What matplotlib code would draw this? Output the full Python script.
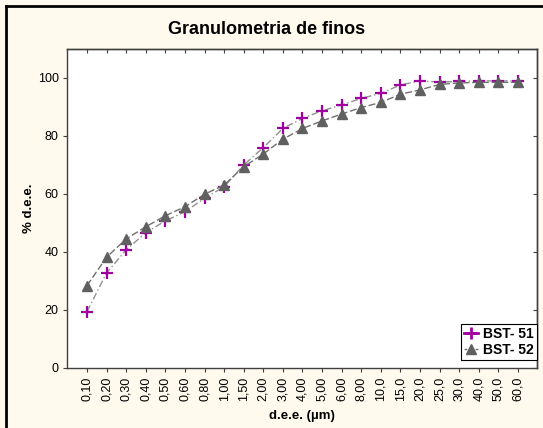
import matplotlib
matplotlib.use("Agg")
import matplotlib.pyplot as plt
from matplotlib.lines import Line2D

plt.rcParams['font.family'] = ['Liberation Sans', 'DejaVu Sans']

# Particle size classes (µm) and cumulative passing (%)
sizes = ["0,10", "0,20", "0,30", "0,40", "0,50", "0,60", "0,80", "1,00", "1,50",
         "2,00", "3,00", "4,00", "5,00", "6,00", "8,00", "10,0", "15,0", "20,0",
         "25,0", "30,0", "40,0", "50,0", "60,0"]
bst51 = [19.4, 32.8, 40.7, 46.7, 50.7, 53.9, 58.5, 62.5, 70.0, 76.0, 82.6, 86.1,
         88.7, 90.7, 93.0, 94.7, 97.6, 99.0, 98.6, 98.8, 99.0, 99.0, 99.0]
bst52 = [28.4, 38.2, 44.5, 48.7, 52.5, 55.6, 59.9, 63.1, 69.4, 73.8, 78.9, 82.6,
         85.2, 87.6, 89.8, 91.6, 94.4, 95.9, 97.8, 98.3, 98.5, 98.5, 98.5]
y_ticks = [0, 20, 40, 60, 80, 100]

bg = '#FFF9EE'
fig = plt.figure(figsize=(5.43, 4.28), dpi=100, facecolor=bg)
ax = fig.add_axes([67/543, 60/428, 470/543, 319/428])
ax.set_facecolor('white')

x = list(range(len(sizes)))
ax.plot(x, bst51, color='#909090', lw=1.0, ls=(0, (5, 2, 1, 2)),
        marker='+', ms=8, mew=1.6, mec='#A000A0', zorder=2)
ax.plot(x, bst52, color='#707070', lw=1.0, ls=(0, (5, 2)),
        marker='^', ms=7, mfc='#606060', mec='#606060', zorder=3)

ax.set_xlim(-1.02, len(sizes) - 1 + 0.97)
ax.set_ylim(0, 110)
ax.set_xticks(x)
ax.set_xticklabels(sizes, rotation=90, fontsize=9)
ax.set_yticks(y_ticks)
ax.set_yticklabels([str(v) for v in y_ticks], fontsize=9)
ax.tick_params(axis='both', direction='out', length=3, width=0.8, color='#404040', pad=3)

top = ax.secondary_xaxis('top')
top.set_xticks(x)
top.set_xticklabels([])
top.tick_params(direction='in', length=3, width=0.8, color='#404040')
right = ax.secondary_yaxis('right')
right.set_yticks(y_ticks)
right.set_yticklabels([])
right.tick_params(direction='in', length=3, width=0.8, color='#404040')
for sp in list(ax.spines.values()) + [top.spines['top'], right.spines['right']]:
    sp.set_color('#404040')
    sp.set_linewidth(1.0)

ax.set_xlabel('d.e.e. (µm)', fontsize=9.5, fontweight='bold', labelpad=7)
ax.set_ylabel('% d.e.e.', fontsize=9.5, fontweight='bold', labelpad=2)

h51 = Line2D([], [], color='#A000A0', lw=2, marker='+', ms=8, mew=2, mec='#A000A0')
h52 = Line2D([], [], color='#707070', lw=1, ls=(0, (2, 2)), marker='^', ms=7,
             mfc='#606060', mec='#606060')
leg = ax.legend([h51, h52], ['BST- 51', 'BST- 52'], loc='lower right',
                bbox_to_anchor=(1.0, 0.025), prop={'weight': 'bold', 'size': 10},
                frameon=True, fancybox=False, edgecolor='black', framealpha=1,
                handlelength=1.0, handletextpad=0.4, borderpad=0.2, labelspacing=0.15,
                borderaxespad=0)
leg.get_frame().set_linewidth(0.8)

fig.text(267/543, 1 - 30/428, 'Granulometria de finos', ha='center', va='center',
         fontsize=13, fontweight='bold')

# Outer frame along the left and top edges
fig.add_artist(Line2D([6/543, 6/543], [0, 1 - 6/428], transform=fig.transFigure,
                      color='black', lw=2))
fig.add_artist(Line2D([6/543, 1], [1 - 6/428, 1 - 6/428], transform=fig.transFigure,
                      color='black', lw=2))

fig.savefig('out.png', dpi=100, facecolor=bg)
